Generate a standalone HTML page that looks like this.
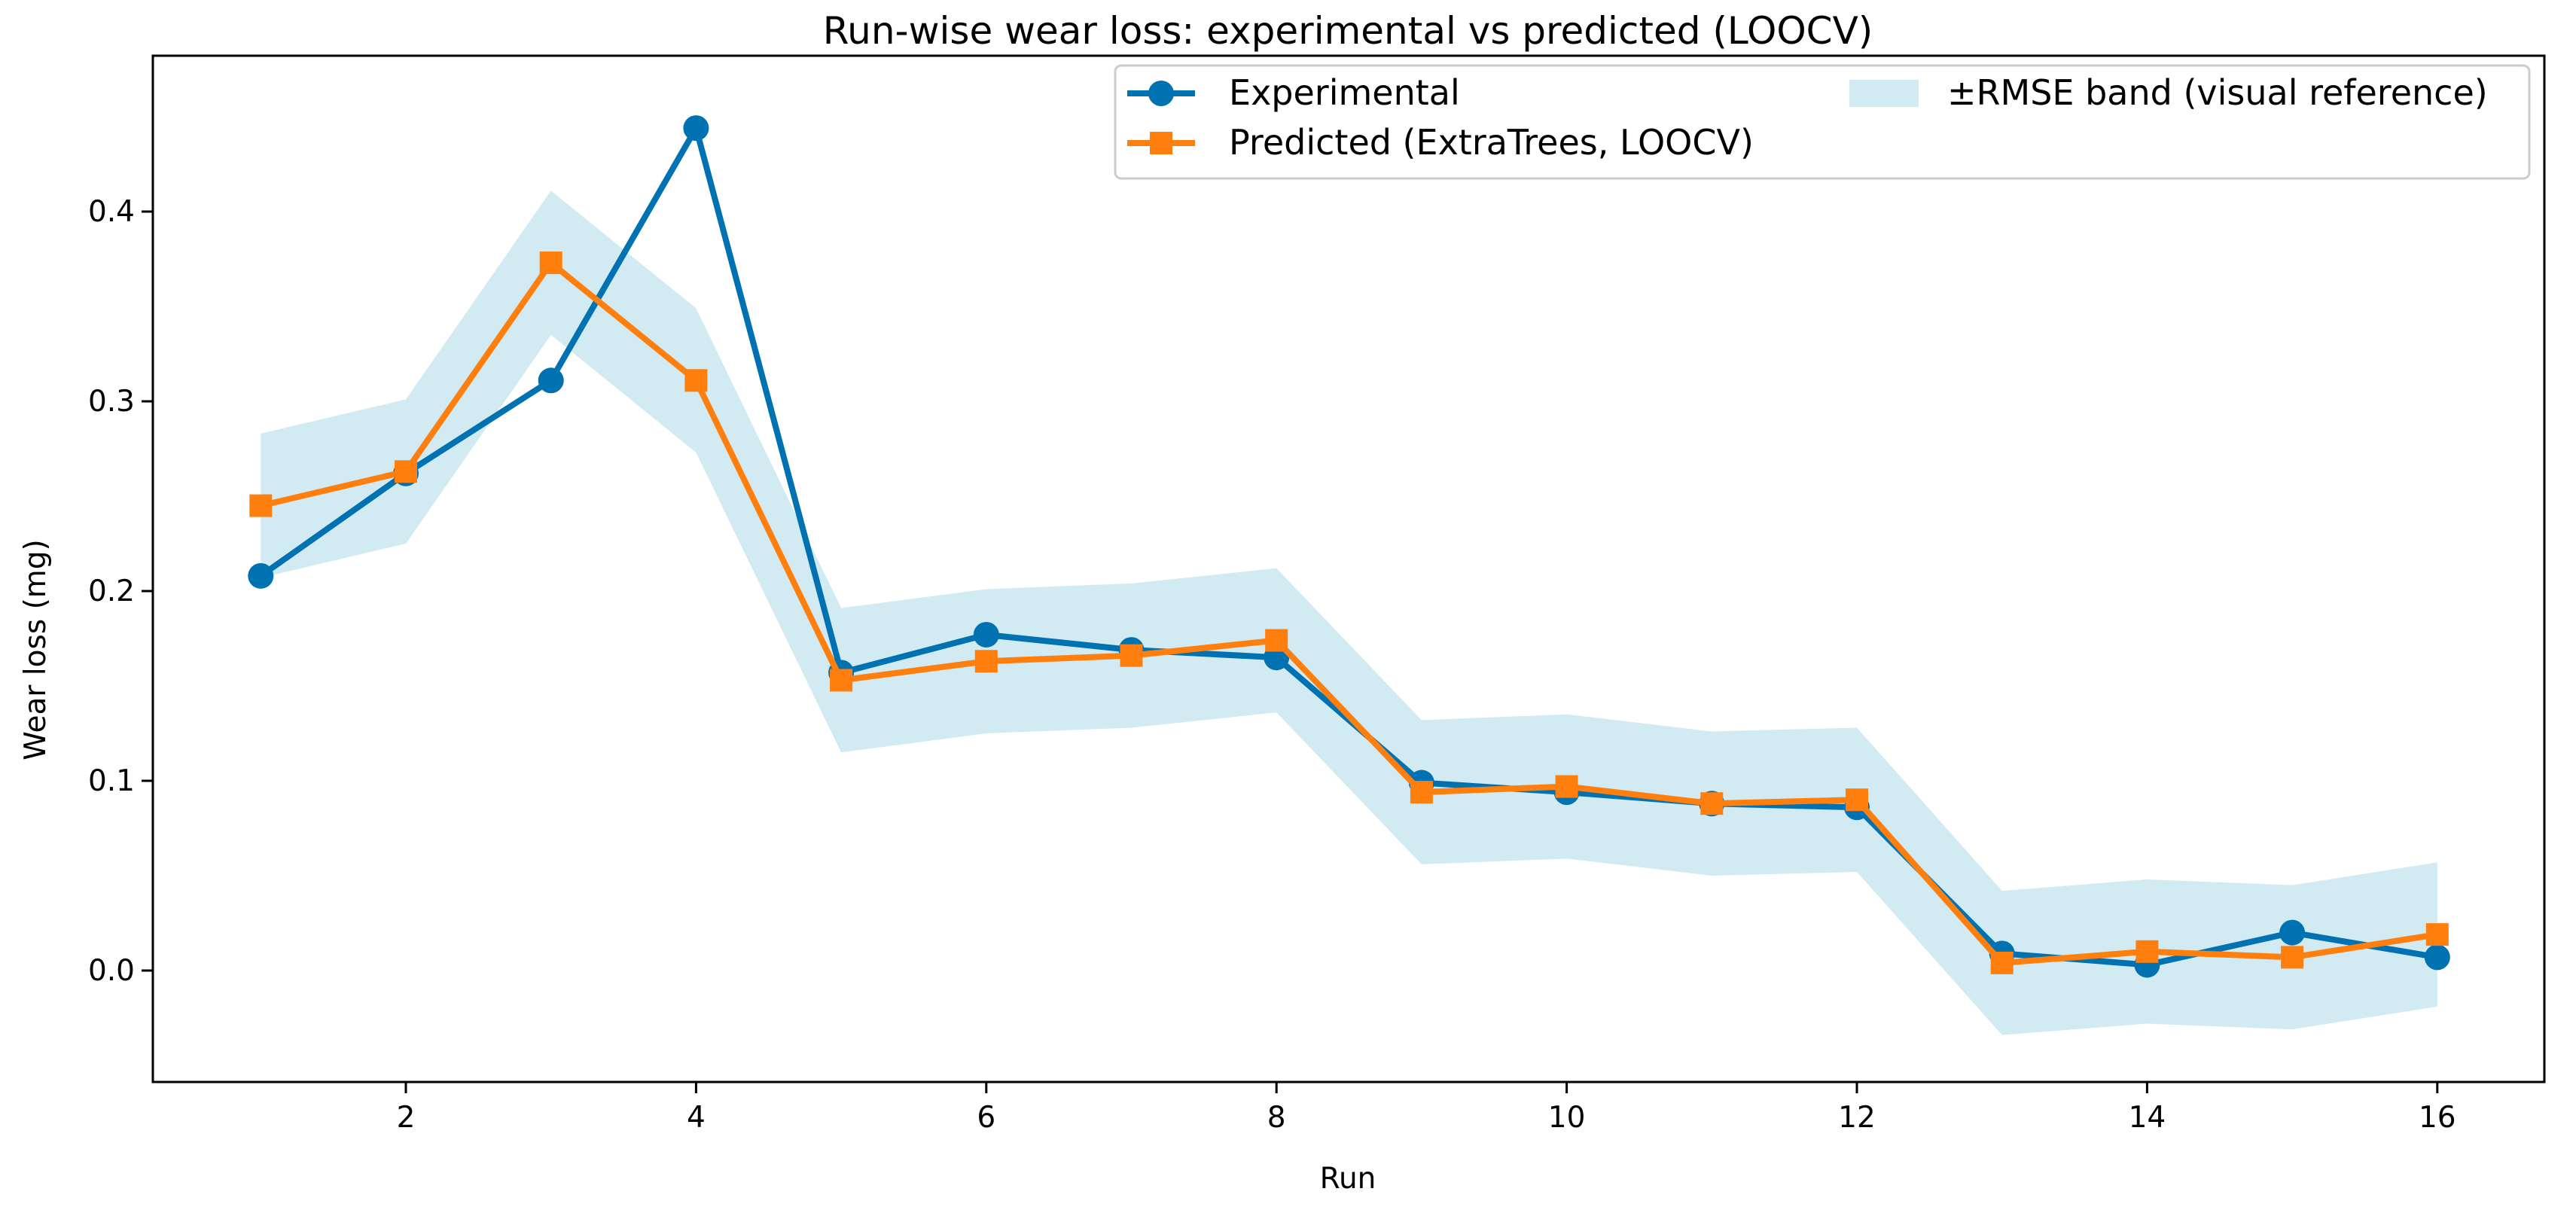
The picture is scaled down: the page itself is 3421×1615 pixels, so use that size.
<!DOCTYPE html>
<html><head><meta charset="utf-8"><style>
html,body{margin:0;padding:0;background:#fff;}
svg{display:block;font-family:"DejaVu Sans","Liberation Sans",sans-serif;}
</style></head><body>
<svg id="chart" width="3421" height="1615" viewBox="0 0 3421 1615">
<text x="1790" y="58" font-size="50" text-anchor="middle" fill="#000">Run-wise wear loss: experimental vs predicted (LOOCV)</text>
<g id="plot"></g>
<text x="1790" y="1578" font-size="39" text-anchor="middle">Run</text>
<text transform="translate(60,863) rotate(-90)" font-size="39" text-anchor="middle">Wear loss (mg)</text>
<g>
<rect x="1481" y="87" width="1878" height="150" rx="8" fill="#fff" stroke="#ccc" stroke-width="3"/>
<g>
<line x1="1497" y1="124" x2="1587" y2="124" stroke="#0072B2" stroke-width="8"/>
<circle cx="1542" cy="124" r="17" fill="#0072B2"/>
<text x="1632" y="139" font-size="46">Experimental</text></g>
<g>
<line x1="1497" y1="190" x2="1587" y2="190" stroke="#FF7F0E" stroke-width="8"/>
<rect x="1527" y="175" width="30" height="30" fill="#FF7F0E"/>
<text x="1632" y="205" font-size="46">Predicted (ExtraTrees, LOOCV)</text></g>
<g>
<rect x="2456" y="106" width="92" height="36" fill="#ADD8E6" fill-opacity="0.55"/>
<text x="2586" y="139" font-size="46">±RMSE band (visual reference)</text></g>
</g>
</svg>
<script>
const runs = [1,2,3,4,5,6,7,8,9,10,11,12,13,14,15,16];
const experimental = [0.208,0.262,0.311,0.444,0.157,0.177,0.169,0.165,0.099,0.094,0.088,0.086,0.009,0.003,0.020,0.007];
const predicted = [0.245,0.263,0.373,0.311,0.153,0.163,0.166,0.174,0.094,0.097,0.088,0.090,0.004,0.010,0.007,0.019];
const rmse = 0.038;
const xTicks = [2,4,6,8,10,12,14,16];
const yTicks = [0.0,0.1,0.2,0.3,0.4];

const L=203,R=3379,T=74,B=1437;
const xs = v => 539 + (v-2)*192.7;
const ys = v => 1289 - v*2520;
const NS='http://www.w3.org/2000/svg';
const g=document.getElementById('plot');
function mk(tag,attrs,parent){const e=document.createElementNS(NS,tag);for(const k in attrs)e.setAttribute(k,attrs[k]);(parent||g).appendChild(e);return e;}

let up=runs.map((r,i)=>xs(r)+','+ys(predicted[i]+rmse));
let dn=runs.map((r,i)=>xs(r)+','+ys(predicted[i]-rmse)).reverse();
const band=mk('polygon',{points:up.concat(dn).join(' '),fill:'#ADD8E6','fill-opacity':'0.55'});



const el1=mk('polyline',{points:runs.map((r,i)=>xs(r)+','+ys(experimental[i])).join(' '),fill:'none',stroke:'#0072B2','stroke-width':8,'stroke-linejoin':'round'});


runs.forEach((r,i)=>{const c=mk('circle',{cx:xs(r),cy:ys(experimental[i]),r:17,fill:'#0072B2'});

});

const el2=mk('polyline',{points:runs.map((r,i)=>xs(r)+','+ys(predicted[i])).join(' '),fill:'none',stroke:'#FF7F0E','stroke-width':8,'stroke-linejoin':'round'});


runs.forEach((r,i)=>{const s=mk('rect',{x:xs(r)-15,y:ys(predicted[i])-15,width:30,height:30,fill:'#FF7F0E'});

});

const fr=mk('rect',{x:L,y:T,width:R-L,height:B-T,fill:'none',stroke:'#000','stroke-width':3});



xTicks.forEach(t=>{
 const l=mk('line',{x1:xs(t),x2:xs(t),y1:B,y2:B+15,stroke:'#000','stroke-width':3});
 
 
 const tx=mk('text',{x:xs(t),y:B+60,'font-size':39,'text-anchor':'middle'});
 tx.textContent=t;
 
 
});
yTicks.forEach(t=>{
 const l=mk('line',{x1:L-15,x2:L,y1:ys(t),y2:ys(t),stroke:'#000','stroke-width':3});
 
 
 const tx=mk('text',{x:L-24,y:ys(t)+13,'font-size':39,'text-anchor':'end'});
 tx.textContent=t.toFixed(1);
 
 
});
</script>
</body></html>
